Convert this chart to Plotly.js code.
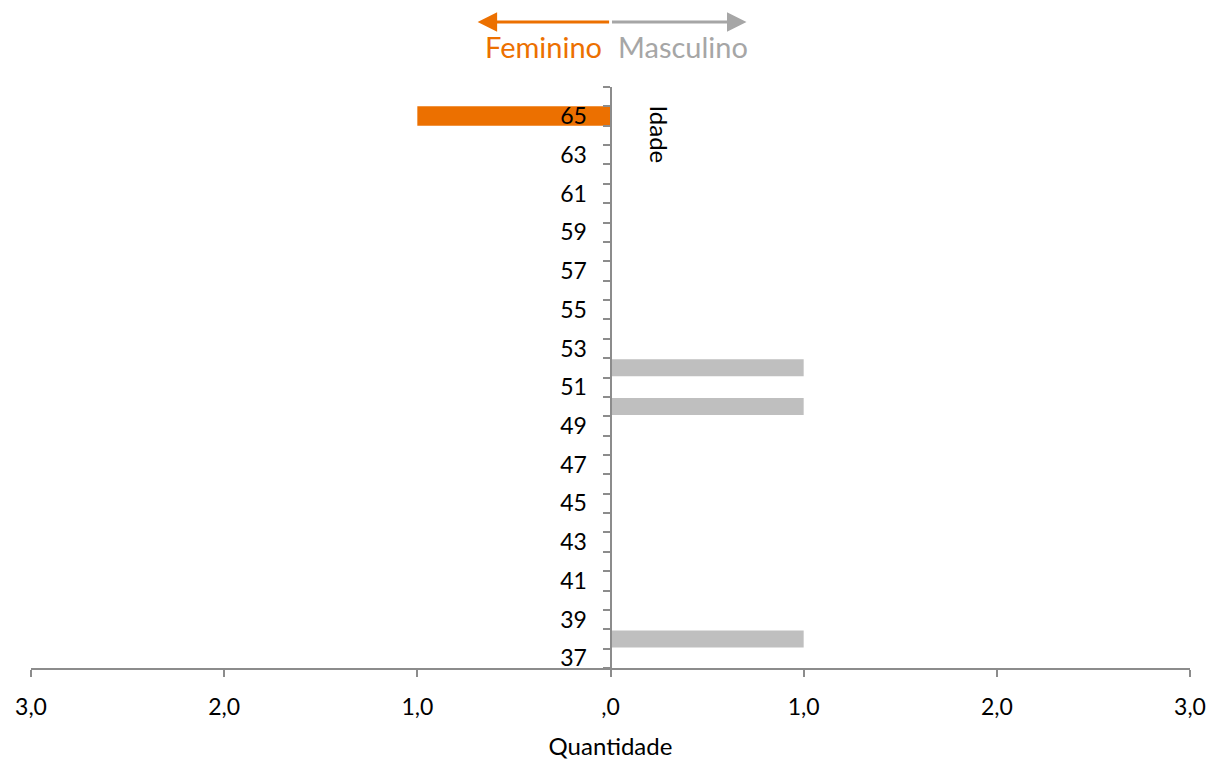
<!DOCTYPE html>
<html>
<head>
<meta charset="utf-8">
<script src="https://cdn.plot.ly/plotly-3.0.1.min.js"></script>
<style>html,body{margin:0;padding:0;background:#fff;}#chart{width:1211px;height:761px;}</style>
</head>
<body>
<div id="chart"></div>
<script>
const ages = [37,38,39,40,41,42,43,44,45,46,47,48,49,50,51,52,53,54,55,56,57,58,59,60,61,62,63,64,65,66];
const feminino = [0,0,0,0,0,0,0,0,0,0,0,0,0,0,0,0,0,0,0,0,0,0,0,0,0,0,0,0,1,0];
const masculino = [0,1,0,0,0,0,0,0,0,0,0,0,0,1,0,1,0,0,0,0,0,0,0,0,0,0,0,0,0,0];
const xTickVals = [-3,-2,-1,0,1,2,3];
const xTickText = ['3,0','2,0','1,0',',0','1,0','2,0','3,0'];
const yLabelVals = [37,39,41,43,45,47,49,51,53,55,57,59,61,63,65];

const FONT = 'Lato, "Noto Sans", sans-serif';
const orange = '#EC7000';
const barGray = '#BFBFBF';
const axisGray = '#8C8C8C';

const boundaries = [];
for (let i = 0; i <= ages.length; i++) boundaries.push(ages[0] - 0.5 + i);

const traces = [
  {type:'bar', orientation:'h', name:'Feminino', y:ages, x:feminino.map(v=>-v),
   marker:{color:orange}, width:1.0, hoverinfo:'skip'},
  {type:'bar', orientation:'h', name:'Masculino', y:ages, x:masculino,
   marker:{color:barGray}, width:0.88, hoverinfo:'skip'}
];

const layout = {
  width:1211, height:761,
  margin:{l:31, r:21, t:87, b:93},
  paper_bgcolor:'#fff', plot_bgcolor:'#fff',
  showlegend:false,
  barmode:'overlay',
  font:{family:FONT, color:'#000', size:23},
  xaxis:{
    range:[-3,3], tickmode:'array', tickvals:xTickVals, ticktext:xTickText,
    showgrid:false, zeroline:false, showline:true, linecolor:axisGray, linewidth:2,
    ticks:'outside', ticklen:7, tickcolor:axisGray, tickwidth:2,
    tickfont:{size:23}, ticklabelstandoff:10,
    title:{text:'Quantidade', font:{size:24}, standoff:20}
  },
  yaxis:{
    range:[36.5, 66.5], anchor:'free', position:0.5,
    tickmode:'array', tickvals:yLabelVals, ticktext:yLabelVals.map(String),
    showgrid:false, zeroline:false, showline:true, linecolor:axisGray, linewidth:2,
    ticks:'outside', ticklen:7, tickcolor:'rgba(0,0,0,0)',
    tickfont:{size:23}, ticklabelstandoff:11,
    minor:{tickmode:'array', tickvals:boundaries, ticks:'outside', ticklen:7, tickcolor:axisGray, tickwidth:2, showgrid:false}
  },
  annotations:[
    {xref:'x', yref:'paper', x:-0.688, y:(668-22)/581, ax:133, ay:0, axref:'pixel', ayref:'pixel',
     text:'', showarrow:true, arrowhead:2, arrowsize:1.3, arrowwidth:3, arrowcolor:orange},
    {xref:'x', yref:'paper', x:0.704, y:(668-22)/581, ax:-136, ay:0, axref:'pixel', ayref:'pixel',
     text:'', showarrow:true, arrowhead:2, arrowsize:1.3, arrowwidth:3, arrowcolor:'#A6A6A6'},
    {xref:'x', yref:'paper', x:-0.036, y:(668-47)/581, xanchor:'right', yanchor:'middle',
     text:'Feminino', showarrow:false, font:{size:29, color:orange}},
    {xref:'x', yref:'paper', x:0.031, y:(668-47)/581, xanchor:'left', yanchor:'middle',
     text:'Masculino', showarrow:false, font:{size:29, color:'#A6A6A6'}},
    {xref:'x', yref:'paper', x:0.254, y:(668-134)/581, xanchor:'center', yanchor:'middle',
     text:'Idade', showarrow:false, textangle:90, font:{size:24, color:'#000'}}
  ]
};

Plotly.newPlot('chart', traces, layout, {displayModeBar:false, staticPlot:true});
</script>
</body>
</html>
